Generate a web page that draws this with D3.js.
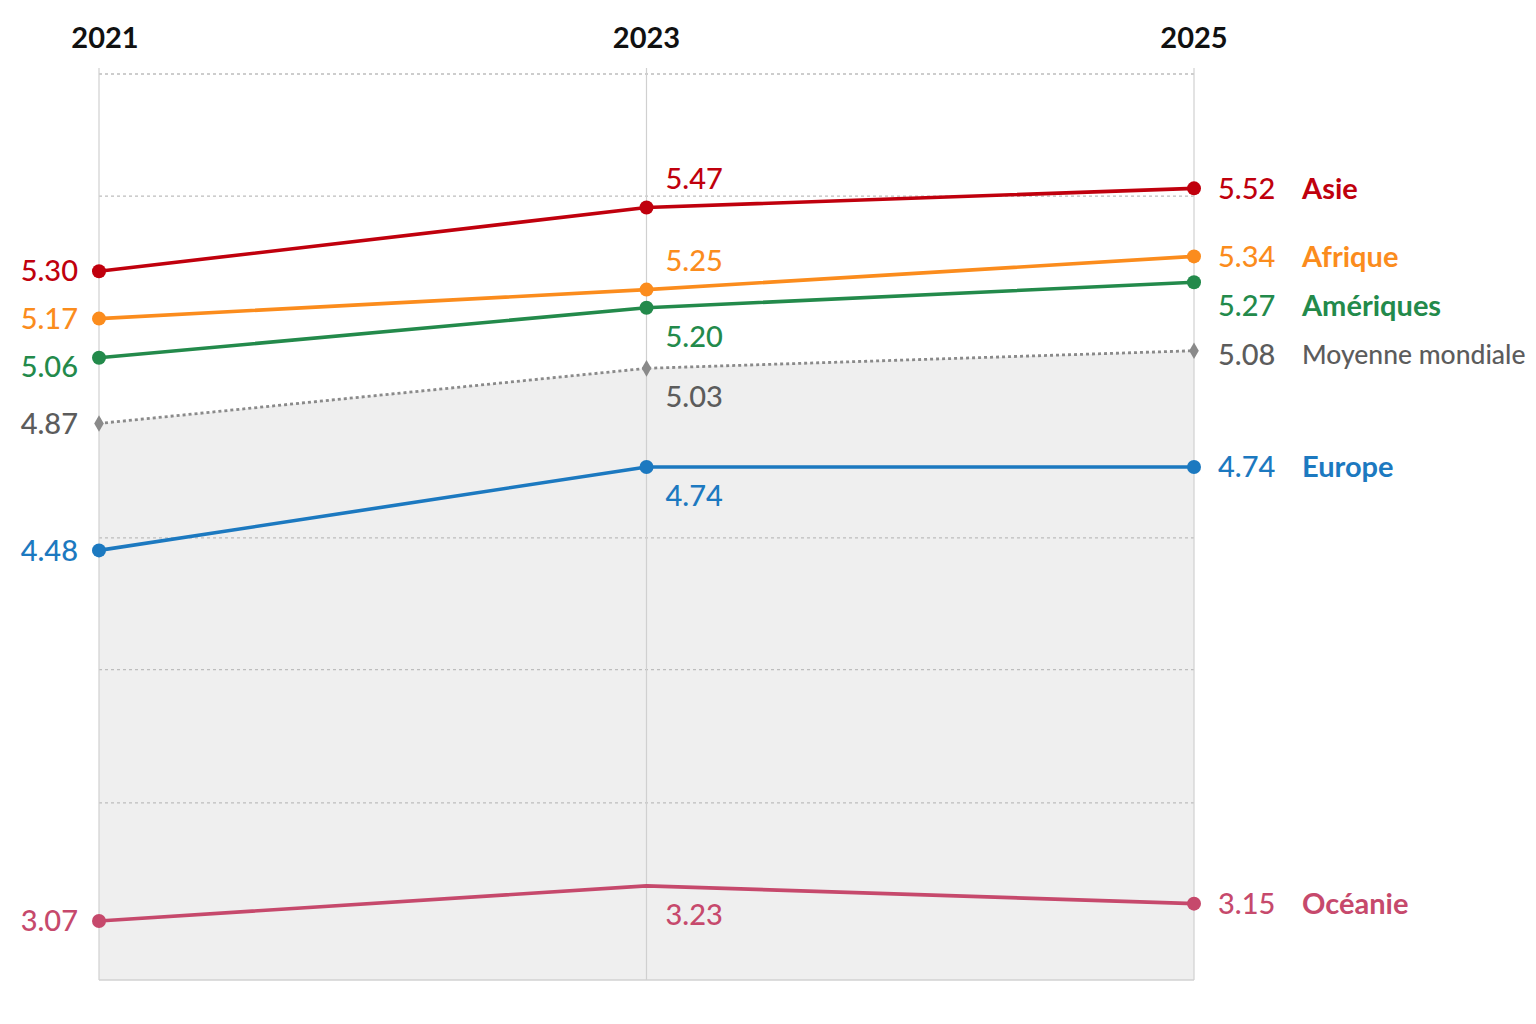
<!DOCTYPE html>
<html>
<head>
<meta charset="utf-8">
<script src="https://cdn.jsdelivr.net/npm/d3@7/dist/d3.min.js"></script>
<style>
  html, body { margin: 0; padding: 0; background: #fff; }
  svg { display: block; font-family: Lato, "Noto Sans", sans-serif; }
</style>
</head>
<body>
<svg id="chart" width="1536" height="1024"></svg>
<script>
// data
const years = ["2021", "2023", "2025"];
const regions = ["Asie", "Afrique", "Amériques", "Moyenne mondiale", "Europe", "Océanie"];
const asie = [5.30, 5.47, 5.52];
const afrique = [5.17, 5.25, 5.34];
const ameriques = [5.06, 5.20, 5.27];
const moyenne = [4.87, 5.03, 5.08];
const europe = [4.48, 4.74, 4.74];
const oceanie = [3.07, 3.23, 3.15];
// unlabelled dotted guides, in value units
const gridValues = [5.81, 5.5, 4.52, 4.08, 3.58];

const valuesByRegion = [asie, afrique, ameriques, moyenne, europe, oceanie];

// look of each series (colour, label side at the middle year...)
const looks = {
    "Asie":             { color: "#c0000d", text: "#c0000d", side: -1 },
    "Afrique":          { color: "#fb8c1d", text: "#fb8c1d", side: -1 },
    "Amériques":        { color: "#238a4b", text: "#238a4b", side: 1 },
    "Moyenne mondiale": { color: "#8a8a8a", text: "#5c5c5c", side: 1, dotted: true },
    "Europe":           { color: "#1c79c0", text: "#1c79c0", side: 1 },
    "Océanie":          { color: "#c6496c", text: "#c6496c", side: 1, noMark: [1] }
};

const svg = d3.select("#chart");
const FONT = 29;

const x = d3.scalePoint().domain(years).range([99, 1194]);
const y = d3.scalePow().exponent(2).domain([2.78, 5.81]).range([980, 74]);
const yBottom = y(y.domain()[0]);

const series = regions.map((name, k) => ({
    name: name,
    look: looks[name],
    points: valuesByRegion[k].map((v, i) => ({ year: years[i], value: v }))
}));

// shaded band under the world average
const area = d3.area()
    .x(d => x(d.year))
    .y0(yBottom)
    .y1(d => y(d.value));

svg.append("path")
    .datum(series.find(s => s.name === "Moyenne mondiale").points)
    .attr("d", area)
    .attr("fill", "#efefef");

// dotted guides
svg.append("g")
    .selectAll("line")
    .data(gridValues)
    .join("line")
    .attr("x1", x(years[0]))
    .attr("x2", x(years[years.length - 1]))
    .attr("y1", d => y(d))
    .attr("y2", d => y(d))
    .attr("stroke", "#bdbdbd")
    .attr("stroke-width", 1.3)
    .attr("stroke-dasharray", "3,3");

svg.append("line")
    .attr("x1", x(years[0]))
    .attr("x2", x(years[years.length - 1]))
    .attr("y1", yBottom)
    .attr("y2", yBottom)
    .attr("stroke", "#d2d2d2")
    .attr("stroke-width", 1.3);

// one vertical rule per year
svg.append("g")
    .selectAll("line")
    .data(years)
    .join("line")
    .attr("x1", d => x(d))
    .attr("x2", d => x(d))
    .attr("y1", 68)
    .attr("y2", yBottom)
    .attr("stroke", "#d0d0d0")
    .attr("stroke-width", 1.2);

svg.append("g")
    .selectAll("text")
    .data(years)
    .join("text")
    .attr("x", (d, i) => x(d) + (i === 0 ? 6 : 0))
    .attr("y", 48)
    .attr("text-anchor", "middle")
    .attr("font-size", 29)
    .attr("font-weight", 700)
    .attr("fill", "#111")
    .text(d => d);

// lines
const line = d3.line()
    .x(d => x(d.year))
    .y(d => y(d.value));

const g = svg.append("g");

g.selectAll("path.series")
    .data(series)
    .join("path")
    .attr("class", "series")
    .attr("d", s => line(s.points))
    .attr("fill", "none")
    .attr("stroke", s => s.look.color)
    .attr("stroke-width", s => s.look.dotted ? 2.8 : 3.6)
    .attr("stroke-dasharray", s => s.look.dotted ? "3,3" : null)
    .attr("stroke-linejoin", "round");

// markers
series.forEach(s => {
    const pts = s.points.filter((p, i) => !(s.look.noMark || []).includes(i));
    if (s.look.dotted) {
        g.selectAll(null)
            .data(pts)
            .join("path")
            .attr("transform", p => `translate(${x(p.year)},${y(p.value)})`)
            .attr("d", d3.symbol(d3.symbolDiamond, 80))
            .attr("fill", s.look.color);
    } else {
        g.selectAll(null)
            .data(pts)
            .join("circle")
            .attr("cx", p => x(p.year))
            .attr("cy", p => y(p.value))
            .attr("r", 7)
            .attr("fill", s.look.color);
    }
});

// keep stacked end labels apart
function spread(items, gap) {
    const sorted = items.slice().sort((a, b) => a.y - b.y);
    for (let i = 1; i < sorted.length; i++) {
        if (sorted[i].y - sorted[i - 1].y < gap) {
            sorted[i].y = sorted[i - 1].y + gap;
        }
    }
    return items;
}

const fmt = d3.format(".2f");
const labels = svg.append("g").attr("font-size", FONT).attr("font-weight", 500);

// first year, right-aligned before the rule
const left = spread(series.map(s => ({ s: s, y: y(s.points[0].value) })), 48);
labels.selectAll(null)
    .data(left)
    .join("text")
    .attr("x", x(years[0]) - 21)
    .attr("y", d => d.y)
    .attr("dy", "0.35em")
    .attr("text-anchor", "end")
    .attr("fill", d => d.s.look.text)
    .text(d => fmt(d.s.points[0].value));

// middle year, above or below the point
labels.selectAll(null)
    .data(series)
    .join("text")
    .attr("x", x(years[1]) + 19)
    .attr("y", s => y(s.points[1].value) + s.look.side * 29)
    .attr("dy", "0.35em")
    .attr("fill", s => s.look.text)
    .text(s => fmt(s.points[1].value));

// last year, value then region name
const last = years.length - 1;
const right = spread(series.map(s => ({ s: s, y: y(s.points[last].value) })), 49);

labels.selectAll(null)
    .data(right)
    .join("text")
    .attr("x", x(years[last]) + 24)
    .attr("y", d => d.y)
    .attr("dy", "0.35em")
    .attr("fill", d => d.s.look.text)
    .text(d => fmt(d.s.points[last].value));

labels.selectAll(null)
    .data(right)
    .join("text")
    .attr("x", x(years[last]) + 108)
    .attr("y", d => d.y)
    .attr("dy", "0.35em")
    .attr("font-weight", d => d.s.look.dotted ? 500 : 700)
    .attr("font-size", d => d.s.look.dotted ? 26.5 : FONT)
    .attr("fill", d => d.s.look.text)
    .text(d => d.s.name);
</script>
</body>
</html>
